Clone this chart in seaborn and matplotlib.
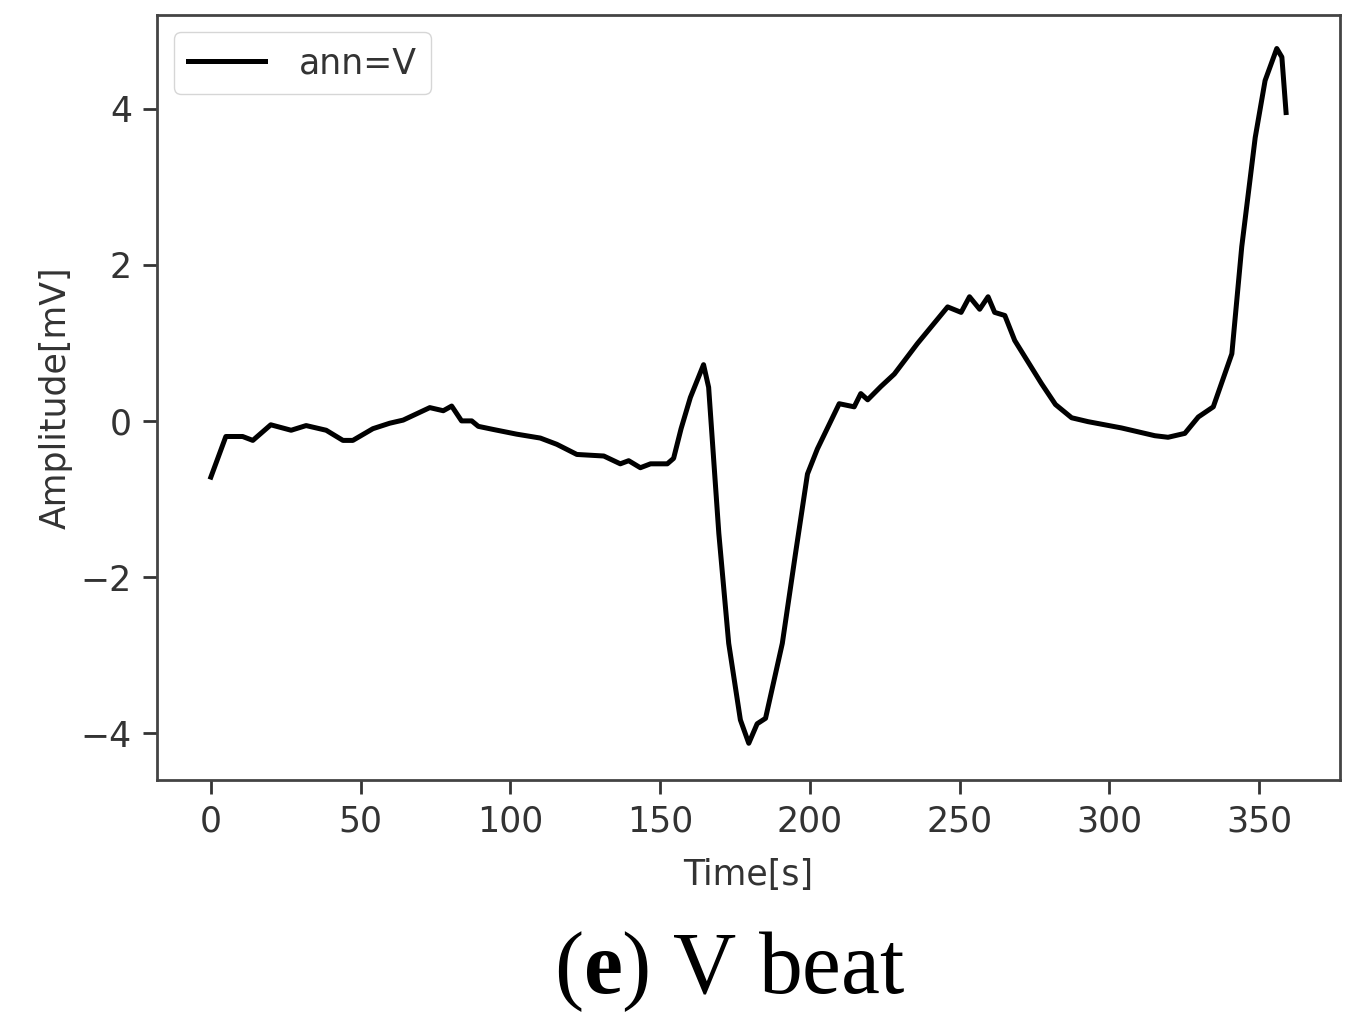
import seaborn as sns
import matplotlib.pyplot as plt
import pandas as pd

# values (time sample, amplitude in mV)
time_s = [0, 5, 10.6, 14, 20, 26.8, 31.8, 38.5, 44.1, 47.4, 54.1, 59.7, 64.2,
          73.1, 77.6, 80.4, 83.7, 87.1, 89.3, 94.3, 102.1, 110, 115.5, 122.2,
          131.2, 136.7, 139.5, 143.4, 146.8, 152.4, 154.5, 157, 160.1, 164.5,
          166.2, 169.6, 172.9, 176.8, 179.6, 182.4, 185.2, 190.8, 195.2, 199.2,
          202.5, 209.8, 214.8, 217, 219.3, 223.7, 228.2, 235.9, 246, 250.5,
          253.3, 256.7, 259.5, 261.7, 265.1, 268.4, 277.3, 282, 287.4, 292.9,
          304, 315.2, 319.6, 325.2, 329.7, 334.7, 340.9, 344.2, 348.7, 352,
          355.9, 357.6, 359]
amplitude = [-0.72, -0.2, -0.2, -0.25, -0.05, -0.12, -0.06, -0.12, -0.25, -0.25,
             -0.1, -0.03, 0.01, 0.17, 0.13, 0.19, 0.0, 0.0, -0.07, -0.11, -0.17,
             -0.22, -0.3, -0.43, -0.45, -0.55, -0.51, -0.6, -0.55, -0.55, -0.48,
             -0.1, 0.3, 0.72, 0.43, -1.44, -2.85, -3.83, -4.13, -3.88, -3.81,
             -2.85, -1.7, -0.68, -0.36, 0.22, 0.18, 0.35, 0.27, 0.44, 0.6, 0.99,
             1.46, 1.39, 1.59, 1.43, 1.59, 1.39, 1.35, 1.03, 0.48, 0.21, 0.04,
             -0.01, -0.09, -0.19, -0.21, -0.16, 0.05, 0.18, 0.86, 2.23, 3.63,
             4.36, 4.77, 4.66, 3.95]

df = pd.DataFrame({"Time[s]": time_s, "Amplitude[mV]": amplitude})

plt.rcParams["mathtext.fontset"] = "custom"
plt.rcParams["mathtext.rm"] = "Liberation Serif"
plt.rcParams["mathtext.bf"] = "Liberation Serif:bold"

fig = plt.figure(figsize=(13.59, 10.24), dpi=100)
ax = fig.add_axes([0.1155, 0.2383, 0.8705, 0.7471])

sns.lineplot(data=df, x="Time[s]", y="Amplitude[mV]", color="black",
             linewidth=3.6, label="ann=V", ax=ax)

ax.set_xticks([0, 50, 100, 150, 200, 250, 300, 350])
ax.set_yticks([-4, -2, 0, 2, 4])
ax.set_xlim(-18, 377)
ax.set_ylim(-4.6, 5.2)
ax.tick_params(labelsize=25, length=10, width=2, colors="#333333", pad=8)
for sp in ax.spines.values():
    sp.set_linewidth(2)
    sp.set_color("#444444")
ax.set_xlabel("Time[s]", fontsize=25, color="#333333", labelpad=14)
ax.set_ylabel("Amplitude[mV]", fontsize=25, color="#333333", labelpad=6)

leg = ax.legend(loc="upper left", fontsize=25, handlelength=2.2,
                borderpad=0.4, handletextpad=1.0, framealpha=0.8)
for t in leg.get_texts():
    t.set_color("#333333")

fig.text(0.537, 0.03, r"($\mathbf{e}$) V beat", fontsize=63,
         family="Liberation Serif", ha="center", va="baseline")

plt.savefig("out.png", dpi=100)
